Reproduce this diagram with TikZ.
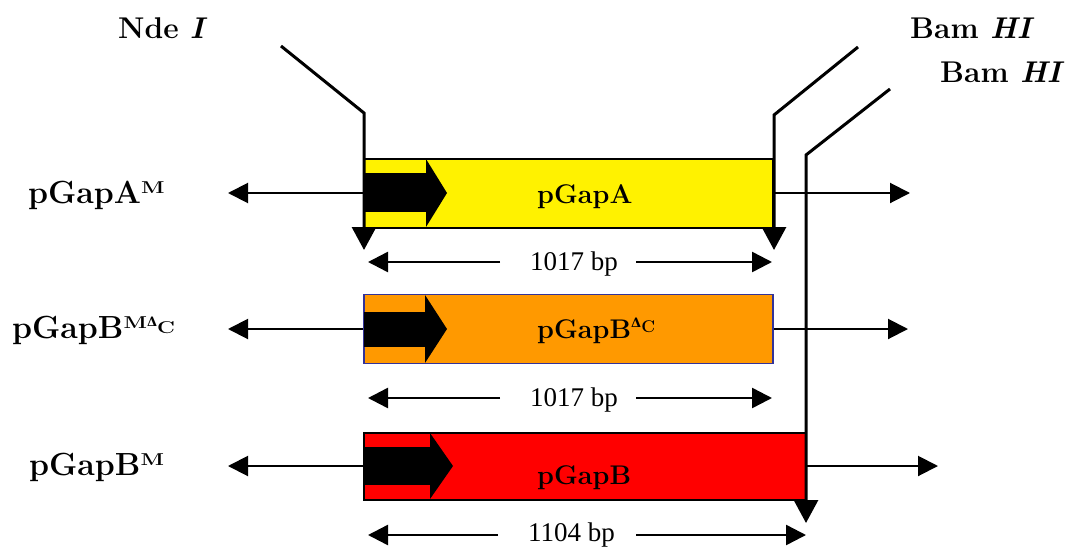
\documentclass[tikz,border=0pt]{standalone}
\usepackage{fontspec}
\usepackage{graphicx}
\newfontfamily\timesf{Liberation Serif}
\newfontfamily\dejaf{DejaVu Serif}
\usetikzlibrary{arrows.meta}
\newcommand\sqz[1]{\scalebox{1}[0.78]{#1}}
\newcommand\dlt[1]{{\fontsize{#1}{#1}\selectfont\dejaf\bfseries Δ}}
\newcommand\supM{\raisebox{9.5pt}{\fontsize{22}{22}\selectfont\sqz{M}}}
\newcommand\supMDC{\raisebox{9.5pt}{\fontsize{22}{22}\selectfont\sqz{M}}\raisebox{12pt}{\dlt{13}}\raisebox{5pt}{\fontsize{22}{22}\selectfont\sqz{C}}}
\newcommand\supDC{\raisebox{11pt}{\dlt{13}}\raisebox{6pt}{\fontsize{17}{17}\selectfont C}}
\begin{document}
\begin{tikzpicture}[x=1pt,y=-1pt,
  gene/.style={draw, line width=2pt, inner sep=0pt, minimum height=69pt},
  rowline/.style={line width=2pt, -{Triangle[length=20pt,width=20pt]}},
  siteline/.style={line width=3pt, line join=miter, -{Triangle[length=23pt,width=24pt]}},
  dimline/.style={line width=2.5pt, -{Triangle[length=20pt,width=20pt]}},
  sitelbl/.style={inner sep=0pt, anchor=base west, font=\fontsize{30}{30}\selectfont\bfseries},
  leftlbl/.style={inner sep=0pt, anchor=base west, font=\fontsize{32}{32}\selectfont\bfseries},
  boxlbl/.style={inner sep=0pt, anchor=base west, font=\fontsize{27}{27}\selectfont\bfseries},
  dimlbl/.style={inner sep=0pt, anchor=base west, font=\fontsize{27}{27}\selectfont\timesf},
]
\useasboundingbox (0,0) rectangle (1067,546);
\definecolor{gorange}{RGB}{255,153,0}
\definecolor{gblue}{RGB}{51,51,153}

% gene boxes
\node[gene, fill=yellow, minimum width=409pt] (boxA) at (568.5,193) {};
\node[gene, fill=gorange, draw=gblue, line width=1.5pt, minimum width=409pt] (boxB) at (568.5,329) {};
\node[gene, fill=red, minimum width=442pt, minimum height=67pt] (boxC) at (585,466) {};

% promoter arrows
\fill (364,173) rectangle (426,212);
\fill (426,159) -- (447,193) -- (426,227) -- cycle;
\fill (364,312) rectangle (425,347);
\fill (425,295) -- (447,329) -- (425,363) -- cycle;
\fill (364,447) rectangle (430,485);
\fill (430,433) -- (453,466) -- (430,499) -- cycle;

% flanking lines
\coordinate (aL) at (228,193); \coordinate (aR) at (910,193);
\coordinate (bL) at (228,329); \coordinate (bR) at (908,329);
\coordinate (cL) at (228,466); \coordinate (cR) at (938,466);
\draw[rowline] (boxA.west) -- (aL);
\draw[rowline] (boxA.east) -- (aR);
\draw[rowline] (boxB.west) -- (bL);
\draw[rowline] (boxB.east) -- (bR);
\draw[rowline] (boxC.west) -- (cL);
\draw[rowline] (boxC.east) -- (cR);

% restriction site lines
\coordinate (ndeT) at (281,46); \coordinate (ndeB) at (364,113); \coordinate (ndeE) at (364,250);
\coordinate (bamT) at (858,47); \coordinate (bamB) at (774,115); \coordinate (bamE) at (774,250);
\coordinate (bam2T) at (890,89); \coordinate (bam2B) at (806,155); \coordinate (bam2E) at (806,523);
\draw[siteline] (ndeT) -- (ndeB) -- (ndeE);
\draw[siteline] (bamT) -- (bamB) -- (bamE);
\draw[siteline] (bam2T) -- (bam2B) -- (bam2E);

% dimensions
\coordinate (d1a) at (500,262); \coordinate (d1b) at (368,262);
\coordinate (d1c) at (636,262); \coordinate (d1d) at (772,262);
\coordinate (d2a) at (500,398); \coordinate (d2b) at (368,398);
\coordinate (d2c) at (636,398); \coordinate (d2d) at (772,398);
\coordinate (d3a) at (498,535); \coordinate (d3b) at (368,535);
\coordinate (d3c) at (636,535); \coordinate (d3d) at (806,535);
\draw[dimline] (d1a) -- (d1b); \draw[dimline] (d1c) -- (d1d);
\draw[dimline] (d2a) -- (d2b); \draw[dimline] (d2c) -- (d2d);
\draw[dimline] (d3a) -- (d3b); \draw[dimline] (d3c) -- (d3d);
\node[dimlbl] (dim1) at (530,270) {1017 bp};
\node[dimlbl] (dim2) at (530,406) {1017 bp};
\node[dimlbl] (dim3) at (528,541) {1104 bp};

% labels
\node[sitelbl] (nde) at (118,38) {Nde \textit{I}};
\node[sitelbl] (bam1) at (910,38) {Bam \textit{HI}};
\node[sitelbl] (bam2) at (940,82) {Bam \textit{HI}};
\node[leftlbl] (lA) at (28,203) {pGapA\supM};
\node[leftlbl] (lB) at (12,338) {pGapB\supMDC};
\node[leftlbl] (lC) at (29,475) {pGapB\supM};
\node[boxlbl] (tA) at (537,203) {pGapA};
\node[boxlbl] (tB) at (537,338) {pGapB\supDC};
\node[boxlbl] (tC) at (537,484) {pGapB};
\end{tikzpicture}
\end{document}
